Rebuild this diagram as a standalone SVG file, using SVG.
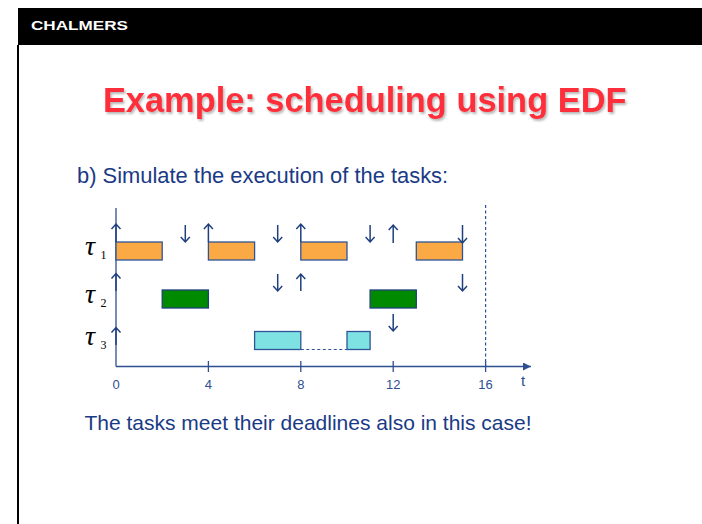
<svg xmlns="http://www.w3.org/2000/svg" width="702" height="524" viewBox="0 0 702 524">
<defs>
<filter id="sh" x="-5%" y="-20%" width="110%" height="150%">
<feDropShadow dx="1.5" dy="2" stdDeviation="1" flood-color="#888888" flood-opacity="0.6"/>
</filter>
<marker id="ah" viewBox="0 0 10 10" refX="10" refY="5" markerWidth="8" markerHeight="8" markerUnits="userSpaceOnUse" orient="auto">
<path d="M0,0 L10,5 L0,10 z" fill="#2F4F8F"/>
</marker>
</defs>
<style>
.blue{font-family:"Liberation Sans",Arial,sans-serif;fill:#1A3A85}
.num{font-family:"Liberation Sans",Arial,sans-serif;font-size:13px;fill:#2E4F8F;text-anchor:middle}
.tau{font-family:"Liberation Serif","Times New Roman",serif;font-style:italic;font-size:28px;fill:#000}
.sub{font-family:"Liberation Serif","Times New Roman",serif;font-size:12px;fill:#000}
.o{fill:#FBA944;stroke:#2F5597;stroke-width:1.3}
.g{fill:#008A00;stroke:#1F3F7F;stroke-width:1.3}
.c{fill:#7EE2E2;stroke:#2F5597;stroke-width:1.3}
.ax{stroke:#2F4F8F;stroke-width:1.3;fill:none}
.ar{stroke:#1F3F7F;stroke-width:1.5;fill:none}
</style>
<rect width="702" height="524" fill="#ffffff"/>
<g id="header">
<rect x="18" y="8" width="684" height="37" fill="#000"/>
<text x="31" y="30" font-family="Liberation Sans,Arial,sans-serif" font-weight="bold" font-size="13.5" fill="#fff" textLength="97" lengthAdjust="spacingAndGlyphs">CHALMERS</text>
<line x1="18" y1="45" x2="18" y2="524" stroke="#000" stroke-width="2"/>
</g>
<g id="title">
<text x="364.7" y="111.5" text-anchor="middle" font-family="Liberation Sans,Arial,sans-serif" font-weight="bold" font-size="34.4" fill="#FF2D3A" filter="url(#sh)">Example: scheduling using EDF</text>
</g>
<g id="subtitle">
<text class="blue" x="77" y="182.5" font-size="21.9">b) Simulate the execution of the tasks:</text>
</g>
<g id="axes">
<line class="ax" x1="116" y1="208" x2="116" y2="366.5"/>
<line class="ax" x1="116" y1="366.5" x2="531" y2="366.5" marker-end="url(#ah)"/>
<line class="ax" x1="208.4" y1="361" x2="208.4" y2="372"/>
<line class="ax" x1="300.8" y1="361" x2="300.8" y2="372"/>
<line class="ax" x1="393.2" y1="361" x2="393.2" y2="372"/>
<line class="ax" x1="485.6" y1="361" x2="485.6" y2="372"/>
<line x1="485.6" y1="205" x2="485.6" y2="366" stroke="#2F5597" stroke-width="1.2" stroke-dasharray="3,2.5"/>
<text class="num" x="116" y="388.5">0</text>
<text class="num" x="208.4" y="388.5">4</text>
<text class="num" x="300.8" y="388.5">8</text>
<text class="num" x="393.2" y="388.5">12</text>
<text class="num" x="485.6" y="388.5">16</text>
<text x="523" y="386" text-anchor="middle" font-family="Liberation Sans,Arial,sans-serif" font-size="15" fill="#2E4F8F">t</text>
</g>
<g id="tau1">
<text class="tau" x="85" y="255">τ</text><text class="sub" x="100.5" y="259">1</text>
<rect class="o" x="116" y="242" width="46.2" height="18"/>
<rect class="o" x="208.4" y="242" width="46.2" height="18"/>
<rect class="o" x="300.8" y="242" width="46.2" height="18"/>
<rect class="o" x="416.3" y="242" width="46.2" height="18"/>
</g>
<g id="tau2">
<text class="tau" x="85" y="303">τ</text><text class="sub" x="100.5" y="307">2</text>
<rect class="g" x="162.2" y="290" width="46.2" height="18"/>
<rect class="g" x="370.1" y="290" width="46.2" height="18"/>
</g>
<g id="tau3">
<text class="tau" x="85" y="345">τ</text><text class="sub" x="100.5" y="349">3</text>
<rect class="c" x="254.6" y="331.5" width="46.2" height="18"/>
<rect class="c" x="347" y="331.5" width="23.1" height="18"/>
<line x1="300.8" y1="349.5" x2="347" y2="349.5" stroke="#2F5597" stroke-width="1.2" stroke-dasharray="3,2.5"/>
</g>
<g id="connectors">
<path class="ar" d="M116,242 V224 M111.5,229 L116,224 L120.5,229"/>
<path class="ar" d="M208.4,242 V224 M203.9,229 L208.4,224 L212.9,229"/>
<path class="ar" d="M300.8,242 V224 M296.3,229 L300.8,224 L305.3,229"/>
<path class="ar" d="M393.2,243 V225 M388.7,230 L393.2,225 L397.7,230"/>
<path class="ar" d="M116,291 V273.5 M111.5,278.5 L116,273.5 L120.5,278.5"/>
<path class="ar" d="M300.8,291 V274 M296.3,279 L300.8,274 L305.3,279"/>
<path class="ar" d="M116,345 V327.5 M111.5,332.5 L116,327.5 L120.5,332.5"/>
<path class="ar" d="M185.3,225 V242 M180.8,237 L185.3,242 L189.8,237"/>
<path class="ar" d="M277.7,225 V242 M273.2,237 L277.7,242 L282.2,237"/>
<path class="ar" d="M370.1,225 V242 M365.6,237 L370.1,242 L374.6,237"/>
<path class="ar" d="M462.5,225 V243 M458,238 L462.5,243 L467,238"/>
<path class="ar" d="M277.7,274 V291 M273.2,286 L277.7,291 L282.2,286"/>
<path class="ar" d="M462.5,274 V291 M458,286 L462.5,291 L467,286"/>
<path class="ar" d="M393.2,314 V331 M388.7,326 L393.2,331 L397.7,326"/>
</g>
<g id="conclusion">
<text class="blue" x="84.5" y="430" font-size="21">The tasks meet their deadlines also in this case!</text>
</g>
</svg>
